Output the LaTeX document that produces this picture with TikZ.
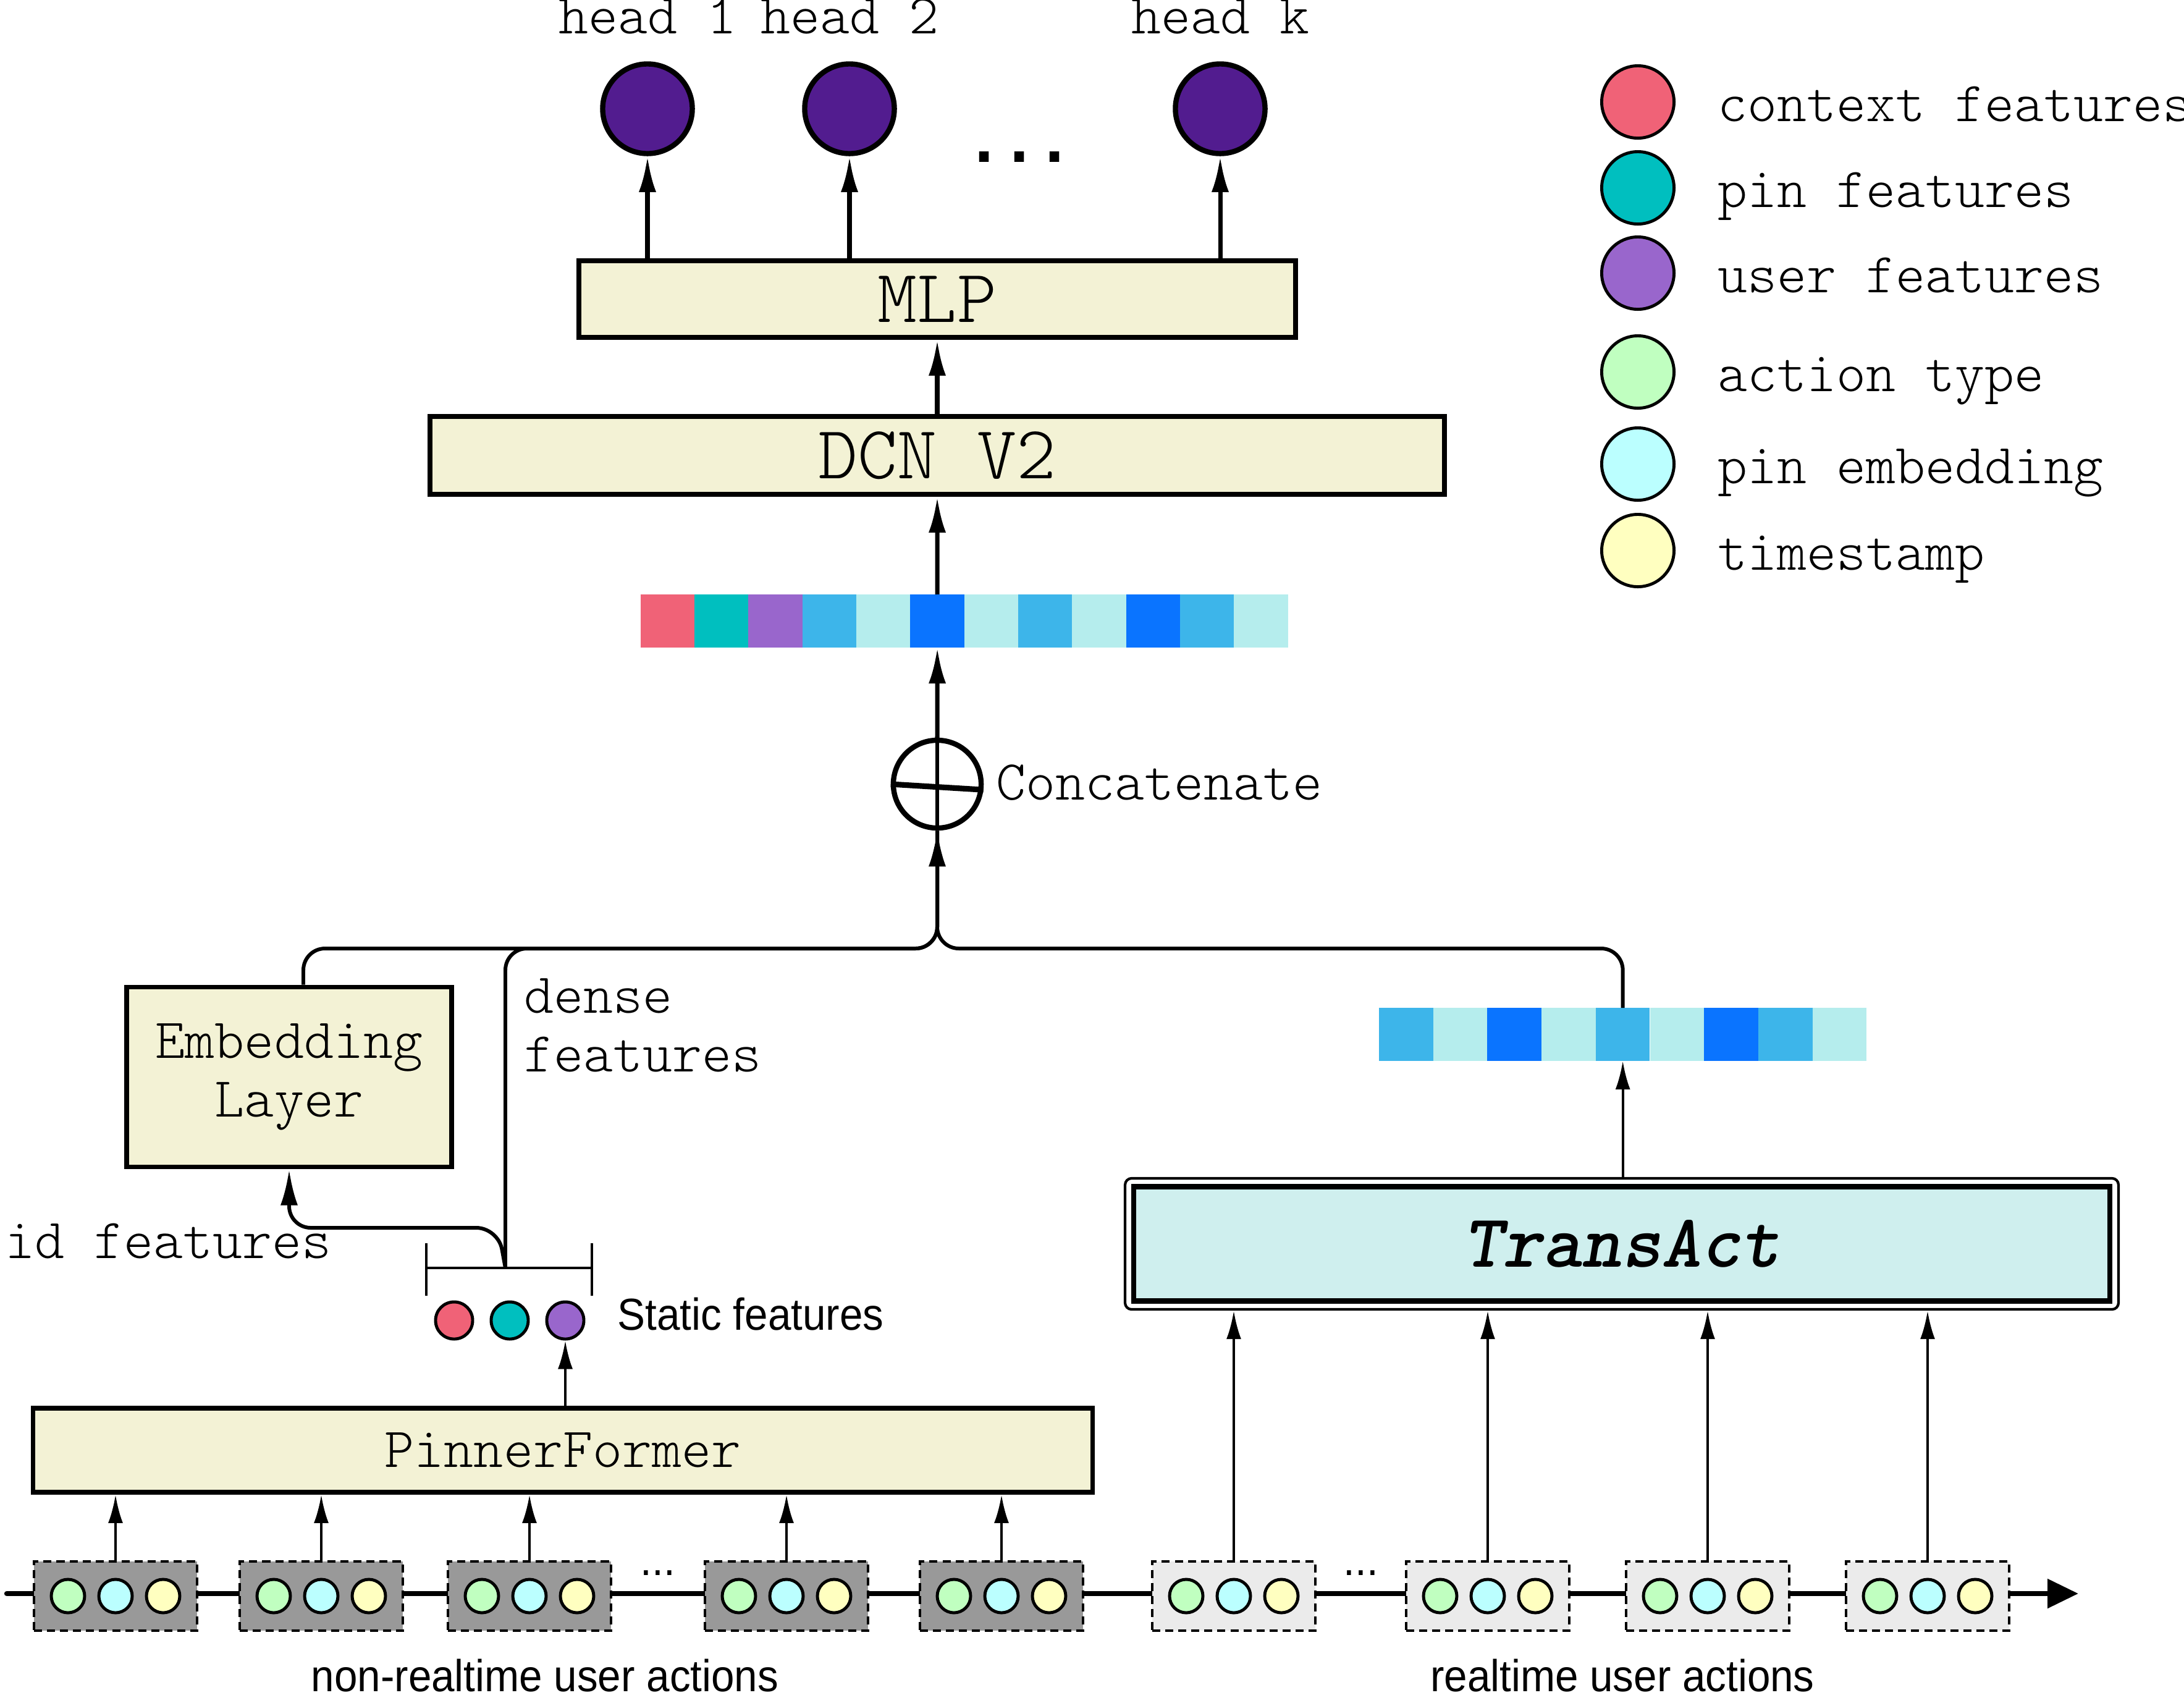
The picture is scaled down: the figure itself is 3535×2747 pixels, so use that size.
\documentclass[tikz,border=0pt]{standalone}
\usepackage{fontspec}
\newfontfamily\narrowsf[FakeStretch=0.93]{Liberation Sans}
\newfontfamily\dotfont{DejaVu Sans Mono}
\usetikzlibrary{arrows.meta,positioning,calc,shapes.geometric}
\definecolor{ctxpink}{HTML}{F06277}
\definecolor{pinteal}{HTML}{00BFBF}
\definecolor{userpurple}{HTML}{9966CC}
\definecolor{actgreen}{HTML}{C0FFC0}
\definecolor{pinemb}{HTML}{BBFFFF}
\definecolor{tstamp}{HTML}{FFFFC0}
\definecolor{skyblue}{HTML}{3DB5EA}
\definecolor{palecyan}{HTML}{B5EDED}
\definecolor{deepblue}{HTML}{0A74FF}
\definecolor{cream}{HTML}{F3F2D5}
\definecolor{tactfill}{HTML}{CFEFEE}
\definecolor{headpurple}{HTML}{521C8F}
\definecolor{oldgray}{HTML}{999999}
\definecolor{newgray}{HTML}{EBEBEB}
\newcommand{\monotext}{\ttfamily\fontseries{l}\fontsize{26}{27}\selectfont}
\newcommand{\bigmono}{\ttfamily\fontseries{l}\fontsize{34.7}{40}\selectfont}
\newcommand{\sftext}{\narrowsf\fontsize{20.6}{24}\selectfont}

\begin{document}
\begin{tikzpicture}[x=0.01cm, y=-0.01cm,
  block/.style={draw, line width=2.2pt, fill=cream, inner sep=0pt, align=center, font=\monotext},
  headnode/.style={circle, draw, line width=2.4pt, fill=headpurple, minimum size=1.45cm, inner sep=0pt},
  legdot/.style={circle, draw, line width=1.4pt, minimum size=1.17cm, inner sep=0pt},
  featdot/.style={circle, draw, line width=1.4pt, minimum size=0.6cm, inner sep=0pt},
  actdot/.style={circle, draw, line width=1.4pt, minimum size=0.54cm, inner sep=0pt},
  actbox/.style={draw, dash pattern=on 3.7pt off 2.3pt, line width=1.3pt, minimum width=2.64cm, minimum height=1.12cm, inner sep=0pt},
  cell/.style={minimum width=0.875cm, minimum height=0.86cm, inner sep=0pt, outer sep=0pt},
  arrow/.style={-{Latex[length=5.8mm,width=2.8mm]}, line width=2pt},
  thinarrow/.style={-{Latex[length=4.6mm,width=2.4mm]}, line width=1.2pt},
  joinline/.style={line width=1.7pt, rounded corners=0.35cm},
  lbl/.style={font=\monotext, inner sep=0pt},
  sflbl/.style={font=\sftext, inner sep=0pt}
]
\useasboundingbox (0,0) rectangle (3535,2747);

% legend
\foreach \c/\y/\t [count=\i] in {ctxpink/165/context features, pinteal/304/pin features, userpurple/442/user features, actgreen/602/action type, pinemb/751/pin embedding, tstamp/891/timestamp} {
  \node[legdot, fill=\c] (leg\i) at (2651,\y) {};
  \node[lbl, anchor=base west] (legt\i) at (2780,{\y+31}) {\t};
}

% output heads
\node[headnode] (h1) at (1048,176) {};
\node[headnode] (h2) at (1375,176) {};
\node[headnode] (hk) at (1975,176) {};
\node[lbl, anchor=base] (h1lbl) at ($(h1.north)+(0,-45)$) {head 1};
\node[lbl, anchor=base] (h2lbl) at ($(h2.north)+(0,-45)$) {head 2};
\node[lbl, anchor=base] (hklbl) at ($(hk.north)+(0,-45)$) {head k};
\node[inner sep=0pt, anchor=base, font=\dotfont\fontsize{27}{30}\selectfont\bfseries] (hdots) at (1650,262) {...};

\node[block, font=\bigmono, minimum width=11.59cm, minimum height=1.24cm] (mlp) at (1517,484) {MLP};
\node[block, font=\bigmono, minimum width=16.41cm, minimum height=1.26cm] (dcn) at (1517,737) {DCN V2};
\foreach \h in {h1,h2,hk}
  \draw[arrow] (mlp.north -| \h) -- (\h.south);
\draw[arrow] (dcn.north) -- (mlp.south);

% concatenated embedding
\foreach \c [count=\i] in {ctxpink,pinteal,userpurple,skyblue,palecyan,deepblue,palecyan,skyblue,palecyan,deepblue,skyblue,palecyan}
  \node[cell, fill=\c] (tb\i) at ({1037+87.3*(\i-0.5)},1005) {};
\draw[arrow] (tb6.north) -- (dcn.south);

\node[circle, draw, line width=2.4pt, minimum size=1.42cm, inner sep=0pt] (concat) at (1517,1269) {};
\draw[line width=2.6pt] (concat.west) -- (concat.353);
\draw[line width=1.7pt] (concat.north) -- (concat.south);
\draw[arrow] (concat.north) -- (tb6.south);
\node[lbl, anchor=base west] (concatlbl) at (1612,1294) {Concatenate};

% embedding layer and static features
\node[block, minimum width=5.25cm, minimum height=2.91cm] (emb) at (468,1743) {Embedding\\Layer};
\node[lbl, anchor=base west, align=left] (denselbl) at (848,1734) {dense\\features};
\node[lbl, anchor=base east] (idlbl) at (537,2036) {id features};

\coordinate (brkl) at (690,2052);
\coordinate (brkr) at (958,2052);
\coordinate (brk) at (818,2052);
\draw[line width=1.4pt] (brkl) -- (brkr);
\draw[line width=1.4pt] ($(brkl)+(0,-40)$) -- ($(brkl)+(0,45)$);
\draw[line width=1.4pt] ($(brkr)+(0,-40)$) -- ($(brkr)+(0,45)$);

\node[featdot, fill=ctxpink] (sf1) at (735,2137) {};
\node[featdot, fill=pinteal] (sf2) at (825,2137) {};
\node[featdot, fill=userpurple] (sf3) at (915,2137) {};
\node[sflbl, anchor=base west] (sflbl) at (999,2152) {Static features};

\node[block, minimum width=17.14cm, minimum height=1.36cm] (pf) at (911,2347) {PinnerFormer};
\draw[thinarrow] (pf.north -| sf3) -- (sf3.south);

% TransAct branch
\node[draw, line width=1.2pt, fill=white, rounded corners=3pt, minimum width=16.07cm, minimum height=2.12cm] (tact) at (2625,2013) {};
\node[draw, line width=2.5pt, fill=tactfill, minimum width=15.79cm, minimum height=1.85cm, font=\bigmono\fontseries{b}\fontshape{sl}\selectfont] (tactin) at (tact.center) {TransAct};

\foreach \c [count=\i] in {skyblue,palecyan,deepblue,palecyan,skyblue,palecyan,deepblue,skyblue,palecyan}
  \node[cell, fill=\c] (rb\i) at ({2232+87.7*(\i-0.5)},1674) {};
\draw[thinarrow] (tact.north -| rb5) -- (rb5.south);

% merging into concatenate
\coordinate (mrg) at (1517,1535);
\draw[joinline] ($(emb.north)+(23,0)$) |- (mrg) -- (concat.south);
\draw[joinline] (brk) |- (mrg) -- (concat.south);
\draw[joinline, -{Latex[length=5.8mm,width=2.8mm]}] (rb5.north) |- (mrg) -- (concat.south);
\draw[arrow, line width=1.7pt, rounded corners=0.35cm] (brk) -- ++(-12,-65) -| (emb.south);

% timeline of user actions
\coordinate (tlstart) at (11,2579);
\coordinate (tlend) at (3364,2579);
\draw[line width=2.4pt, line cap=round, -{Triangle[length=5mm,width=4.6mm]}] (tlstart) -- (tlend);

\foreach \x [count=\i] in {187,520,857,1273,1621} {
  \node[actbox, fill=oldgray] (nb\i) at (\x,2583) {};
  \node[actdot, fill=actgreen] (nb\i a) at ({\x-77},2583) {};
  \node[actdot, fill=pinemb] (nb\i b) at (\x,2583) {};
  \node[actdot, fill=tstamp] (nb\i c) at ({\x+77},2583) {};
  \draw[thinarrow] (nb\i.north) -- (nb\i.north |- pf.south);
}
\foreach \x [count=\i] in {1997,2408,2764,3120} {
  \node[actbox, fill=newgray] (rt\i) at (\x,2583) {};
  \node[actdot, fill=actgreen] (rt\i a) at ({\x-77},2583) {};
  \node[actdot, fill=pinemb] (rt\i b) at (\x,2583) {};
  \node[actdot, fill=tstamp] (rt\i c) at ({\x+77},2583) {};
  \draw[thinarrow] (rt\i.north) -- (rt\i.north |- tact.south);
}
\node[sflbl, anchor=base] (nrdots) at (1065,2549) {...};
\node[sflbl, anchor=base] (rdots) at (2203,2549) {...};

\node[sflbl, anchor=base] (nrlbl) at (882,2737) {non-realtime user actions};
\node[sflbl, anchor=base] (rlbl) at (2626,2737) {realtime user actions};
\end{tikzpicture}
\end{document}
